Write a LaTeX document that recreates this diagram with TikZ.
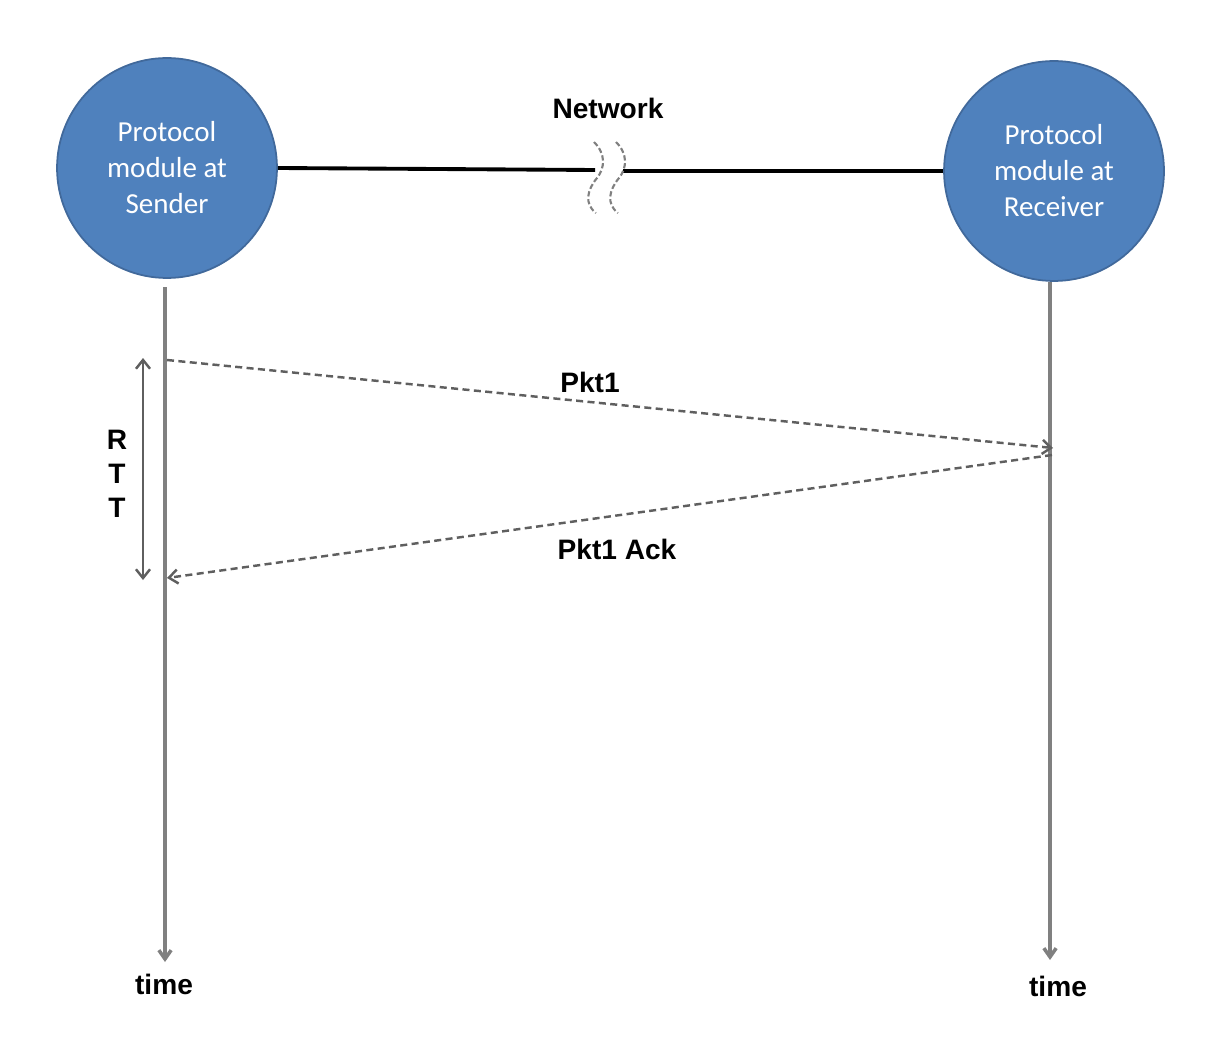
\documentclass[tikz,border=0pt]{standalone}
\usepackage{fontspec}
\setmainfont{Liberation Sans}
\newfontfamily\modfont{Carlito}
\usepackage{xcolor}
\usetikzlibrary{arrows.meta, calc, positioning}

\definecolor{modblue}{RGB}{79,129,189}
\definecolor{modedge}{RGB}{65,105,155}
\definecolor{timegray}{RGB}{128,128,128}
\definecolor{pktgray}{RGB}{95,95,95}

\tikzset{
  module/.style={circle, fill=modblue, draw=modedge, line width=1pt,
    minimum size=4.4cm, inner sep=0pt, text=white, align=center,
    font=\modfont\fontsize{16.5}{20.5}\selectfont},
  timeline/.style={timegray, line width=2pt, -{Straight Barb[length=5pt,width=7pt]}},
  pkt/.style={pktgray, line width=1.4pt, dash pattern=on 4pt off 2.5pt,
    -{Straight Barb[length=5pt,width=8pt]}},
  lbl/.style={font=\bfseries\fontsize{16}{19}\selectfont},
  breakline/.style={timegray, line width=1.2pt, dash pattern=on 3pt off 1.5pt}
}

\begin{document}
\begin{tikzpicture}[x=0.02cm, y=-0.02cm]
\useasboundingbox (0,0) rectangle (1212,1040);

% Protocol modules
\node[module] (sender) at (167,168) {Protocol\\module at\\Sender};
\node[module] (receiver) at (1054,171) {Protocol\\module at\\Receiver};

% Network link with break
\coordinate (gapL) at (595,170);
\coordinate (gapR) at (623,171);
\draw[black, line width=2.2pt] (sender.east) -- (gapL);
\draw[black, line width=2.2pt] (gapR) -- (receiver.west);
\foreach \dx in {0,22}
    \draw[breakline] (594+\dx,142) .. controls (606+\dx,154) and (605+\dx,168) .. (597+\dx,178)
        .. controls (587+\dx,190) and (584+\dx,204) .. (596+\dx,213);
\node[lbl] (network) at (608,108) {Network};

% Time lines
\coordinate (sTop) at (165,287);
\coordinate (sEnd) at (165,962);
\coordinate (rTop) at (1050,282);
\coordinate (rEnd) at (1050,960);
\draw[timeline] (sTop) -- (sEnd);
\draw[timeline] (rTop) -- (rEnd);
\node[lbl] (stime) at (164,984) {time};
\node[lbl] (rtime) at (1058,986) {time};

% Packet and ack
\coordinate (pktS) at (167,360);
\coordinate (pktR) at (1053,448);
\coordinate (ackR) at (1052,455);
\coordinate (ackS) at (167,578);
\draw[pkt] (pktS) -- (pktR);
\draw[pkt] (ackR) -- (ackS);
\node[lbl] (pkt1) at (590,382) {Pkt1};
\node[lbl] (ack1) at (617,549) {Pkt1 Ack};

% RTT
\coordinate (rttT) at (143,358);
\coordinate (rttB) at (143,580);
\draw[pktgray, line width=1.4pt, {Straight Barb[length=5pt,width=8pt]}-{Straight Barb[length=5pt,width=8pt]}] (rttT) -- (rttB);
\node[lbl, align=center, font=\bfseries\fontsize{16}{19.3}\selectfont] (rtt) at (117,474) {R\\T\\T};
\end{tikzpicture}
\end{document}
